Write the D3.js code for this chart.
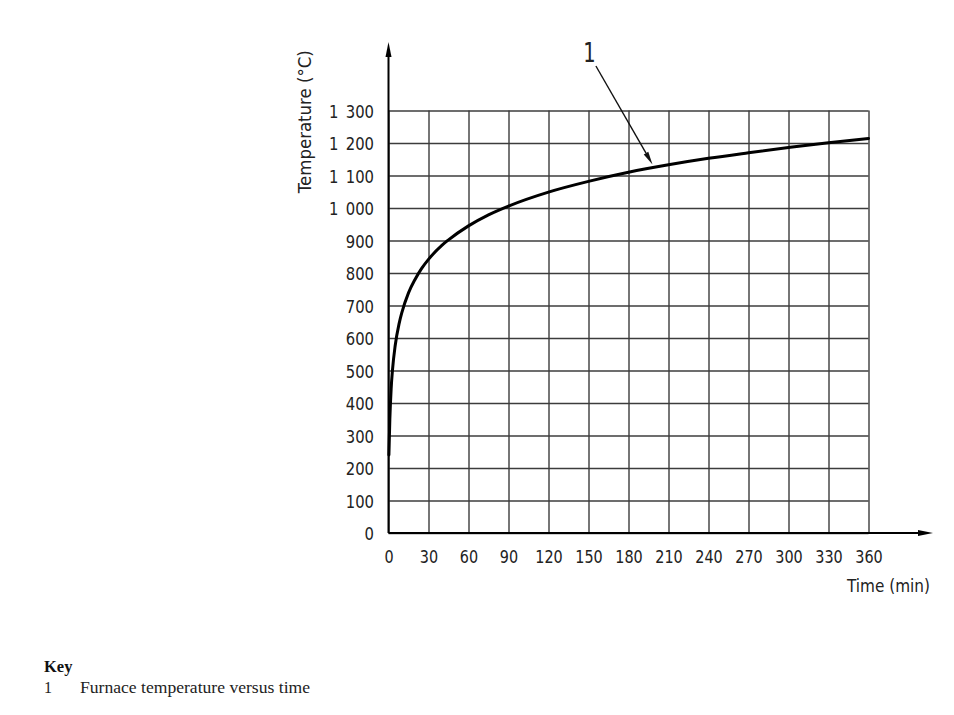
<!DOCTYPE html>
<html><head><meta charset="utf-8">
<script src="https://cdn.jsdelivr.net/npm/d3@7"></script>
<style>body{margin:0;background:#fff}svg{display:block}</style>
</head><body>
<svg id="c" width="954" height="715"></svg>
<script>
// ---- data ----
const timeMin = [0.3, 1, 2, 3, 5, 8, 10, 15, 20, 25, 30, 40, 45, 60, 75, 90, 120, 150, 180, 210, 240, 270, 300, 330, 360];
const tempC   = [240, 349, 445, 502, 576, 645, 678, 739, 781, 815, 842, 885, 902, 945, 979, 1006, 1049, 1082, 1110, 1133, 1153, 1170, 1186, 1201, 1214];
const xTickValues = [0, 30, 60, 90, 120, 150, 180, 210, 240, 270, 300, 330, 360];
const yTickValues = [0, 100, 200, 300, 400, 500, 600, 700, 800, 900, 1000, 1100, 1200, 1300];
const xTitle = "Time (min)";
const yTitle = "Temperature (°C)";
const calloutLabel = "1";
const calloutPoint = [198, 1128];
const keyTitle = "Key";
const keyItems = [["1", "Furnace temperature versus time"]];

// ---- layout ----
const svg = d3.select("#c");
const x = d3.scaleLinear().domain([0, 360]).range([388.5, 868.5]);
const y = d3.scaleLinear().domain([0, 1300]).range([533, 110.5]);
const FONT = "'DejaVu Sans', sans-serif";
const SX = 0.8;
const loc = d3.formatLocale({decimal: ".", thousands: "\u2002", grouping: [3], currency: ["", ""]});
const fmt = loc.format(",");

// grid
const gridColor = "#3c3c3c";
svg.append("g").attr("transform", `translate(0,${y(0)})`)
  .call(d3.axisBottom(x).tickValues(xTickValues).tickSize(-(y(0) - y(1300))).tickFormat(""))
  .call(g => g.select(".domain").remove())
  .call(g => g.selectAll("line").attr("stroke", gridColor).attr("stroke-width", 1.4));
svg.append("g").attr("transform", `translate(${x(0)},0)`)
  .call(d3.axisLeft(y).tickValues(yTickValues).tickSize(-(x(360) - x(0))).tickFormat(""))
  .call(g => g.select(".domain").remove())
  .call(g => g.selectAll("line").attr("stroke", gridColor).attr("stroke-width", 1.4));

// tick labels
svg.append("g").attr("transform", `translate(0,${y(0)})`)
  .call(d3.axisBottom(x).tickValues(xTickValues).tickSize(0).tickFormat(d3.format("d")))
  .call(g => g.select(".domain").remove())
  .call(g => g.selectAll("text")
    .attr("y", 29.7).attr("dy", 0)
    .attr("transform", `scale(${SX},1)`)
    .attr("font-family", FONT).attr("font-size", 18).attr("fill", "#222"));
svg.append("g").attr("transform", `translate(${x(0)},0)`)
  .call(d3.axisLeft(y).tickValues(yTickValues).tickSize(0).tickFormat(fmt))
  .call(g => g.select(".domain").remove())
  .call(g => g.selectAll("text")
    .attr("x", -14.5 / SX).attr("dy", "0.365em")
    .attr("transform", `scale(${SX},1)`)
    .attr("font-family", FONT).attr("font-size", 18.5).attr("fill", "#222"));

// axes with arrows
svg.append("line").attr("x1", x(0)).attr("y1", y(0)).attr("x2", x(0)).attr("y2", 50)
  .attr("stroke", "#000").attr("stroke-width", 2);
svg.append("path").attr("d", `M${x(0)},42 L${x(0) - 3},57 L${x(0) + 3},57 Z`).attr("fill", "#000");
svg.append("line").attr("x1", x(0)).attr("y1", y(0)).attr("x2", 925).attr("y2", y(0))
  .attr("stroke", "#000").attr("stroke-width", 2);
svg.append("path").attr("d", `M933,${y(0)} L918,${y(0) - 3} L918,${y(0) + 3} Z`).attr("fill", "#000");

// curve
const pts = timeMin.map((t, i) => [t, tempC[i]]);
svg.append("path").datum(pts)
  .attr("d", d3.line().x(d => x(d[0])).y(d => y(d[1])).curve(d3.curveMonotoneX))
  .attr("fill", "none").attr("stroke", "#000").attr("stroke-width", 3).attr("stroke-linecap", "round");

// titles
svg.append("text").attr("transform", "translate(310.7,121.7) rotate(-90)")
  .attr("text-anchor", "middle").attr("font-family", FONT).attr("font-size", 17)
  .attr("textLength", 143).attr("lengthAdjust", "spacingAndGlyphs").attr("fill", "#222").text(yTitle);
svg.append("text").attr("x", 930).attr("y", 592)
  .attr("text-anchor", "end").attr("font-family", FONT).attr("font-size", 18)
  .attr("textLength", 83).attr("lengthAdjust", "spacingAndGlyphs").attr("fill", "#222").text(xTitle);

// callout
const tip = [x(calloutPoint[0]), y(calloutPoint[1]) - 2];
const start = [tip[0] - 56.6, tip[1] - 98.4];
const ang = Math.atan2(tip[1] - start[1], tip[0] - start[0]);
const L = 13, W = 2.6;
const bx = tip[0] - L * Math.cos(ang), by = tip[1] - L * Math.sin(ang);
svg.append("line").attr("x1", start[0]).attr("y1", start[1]).attr("x2", bx).attr("y2", by)
  .attr("stroke", "#111").attr("stroke-width", 1.4);
svg.append("path")
  .attr("d", `M${tip[0]},${tip[1]} L${bx - W * Math.sin(ang)},${by + W * Math.cos(ang)} L${bx + W * Math.sin(ang)},${by - W * Math.cos(ang)} Z`)
  .attr("fill", "#111");
svg.append("text").attr("transform", "translate(589.5,61.7) scale(0.75,1)")
  .attr("text-anchor", "middle").attr("font-family", FONT).attr("font-size", 26).attr("fill", "#222").text(calloutLabel);

// key
svg.append("text").attr("x", 44).attr("y", 672).attr("font-family", "'Liberation Serif', serif")
  .attr("font-weight", "bold").attr("font-size", 16.5).attr("fill", "#111").text(keyTitle);
keyItems.forEach((k, i) => {
  svg.append("text").attr("x", 44).attr("y", 693 + i * 20).attr("font-family", "'Liberation Serif', serif")
    .attr("font-size", 16).attr("fill", "#222").text(k[0]);
  svg.append("text").attr("x", 80).attr("y", 693 + i * 20).attr("font-family", "'Liberation Serif', serif")
    .attr("font-size", 16).attr("textLength", 230).attr("lengthAdjust", "spacingAndGlyphs")
    .attr("fill", "#222").text(k[1]);
});
</script>
</body></html>
